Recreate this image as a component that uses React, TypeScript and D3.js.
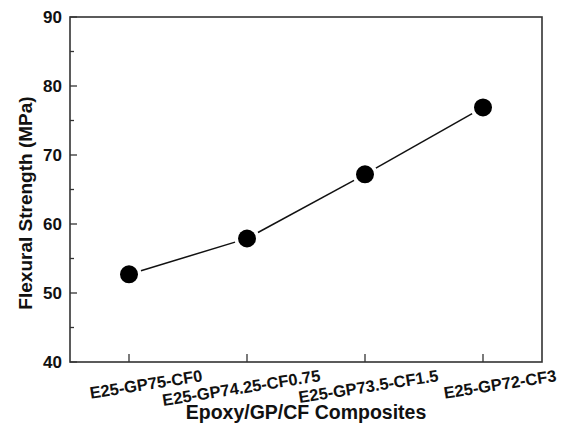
import React, { useRef, useEffect } from "react";
import * as d3 from "d3";

const categories = ["E25-GP75-CF0", "E25-GP74.25-CF0.75", "E25-GP73.5-CF1.5", "E25-GP72-CF3"];
const strength = [52.7, 57.9, 67.2, 76.9];
const yTicks = [40, 50, 60, 70, 80, 90];
const yMinorTicks = [45, 55, 65, 75, 85];

const App = () => {
  const svgRef = useRef<SVGSVGElement>(null);

  useEffect(() => {
    const width = 571;
    const height = 429;
    const marginLeft = 70;
    const marginRight = 29;
    const marginTop = 17;
    const marginBottom = 67;
    const font = "'Liberation Sans', Arial, sans-serif";
    const axisColor = "#333";

    const svg = d3.select(svgRef.current);
    svg.selectAll("*").remove();

    // --- Scales ---
    const x = d3
      .scalePoint<string>()
      .domain(categories)
      .range([marginLeft, width - marginRight])
      .padding(0.5);

    const y = d3
      .scaleLinear()
      .domain([40, 90])
      .range([height - marginBottom, marginTop]);

    const data = categories.map((c, i) => ({ cat: c, value: strength[i] }));

    // --- Line segments with gaps around dots ---
    const gap = 12.5;
    const segs = d3.pairs(data);
    svg.append("g")
      .selectAll("line")
      .data(segs)
      .join("line")
      .each(function ([a, b]) {
        const x1 = x(a.cat)!, y1 = y(a.value);
        const x2 = x(b.cat)!, y2 = y(b.value);
        const len = Math.hypot(x2 - x1, y2 - y1);
        const ux = (x2 - x1) / len, uy = (y2 - y1) / len;
        d3.select(this)
          .attr("x1", x1 + ux * gap)
          .attr("y1", y1 + uy * gap)
          .attr("x2", x2 - ux * gap)
          .attr("y2", y2 - uy * gap);
      })
      .attr("stroke", "#111")
      .attr("stroke-width", 1.5);

    // --- Dots ---
    svg.append("g")
      .selectAll("circle")
      .data(data)
      .join("circle")
      .attr("cx", (d) => x(d.cat)!)
      .attr("cy", (d) => y(d.value))
      .attr("r", 9)
      .attr("fill", "#000");

    // --- Frame ---
    svg.append("rect")
      .attr("x", marginLeft)
      .attr("y", marginTop)
      .attr("width", width - marginLeft - marginRight)
      .attr("height", height - marginTop - marginBottom)
      .attr("fill", "none")
      .attr("stroke", axisColor)
      .attr("stroke-width", 1.6);

    // --- Y axis ticks (inward) ---
    const yAxis = svg.append("g").attr("transform", `translate(${marginLeft},0)`);
    yAxis.selectAll("line.major")
      .data(yTicks)
      .join("line")
      .attr("class", "major")
      .attr("x1", 0)
      .attr("x2", 7)
      .attr("y1", (d) => y(d))
      .attr("y2", (d) => y(d))
      .attr("stroke", axisColor)
      .attr("stroke-width", 1.3);
    yAxis.selectAll("line.minor")
      .data(yMinorTicks)
      .join("line")
      .attr("class", "minor")
      .attr("x1", 0)
      .attr("x2", 4)
      .attr("y1", (d) => y(d))
      .attr("y2", (d) => y(d))
      .attr("stroke", axisColor)
      .attr("stroke-width", 1.3);
    yAxis.selectAll("text")
      .data(yTicks)
      .join("text")
      .attr("x", -8)
      .attr("y", (d) => y(d))
      .attr("dy", "0.36em")
      .attr("text-anchor", "end")
      .attr("font-family", font)
      .attr("font-weight", "bold")
      .attr("font-size", 17)
      .attr("fill", "#111")
      .text((d) => d);

    // --- X axis ticks (inward) and rotated labels ---
    const xAxis = svg.append("g").attr("transform", `translate(0,${height - marginBottom})`);
    xAxis.selectAll("line")
      .data(categories)
      .join("line")
      .attr("x1", (d) => x(d)!)
      .attr("x2", (d) => x(d)!)
      .attr("y1", 0)
      .attr("y2", -8)
      .attr("stroke", axisColor)
      .attr("stroke-width", 1.3);
    xAxis.selectAll("text")
      .data(categories)
      .join("text")
      .attr("transform", (d) => `translate(${x(d)! + 74},19) rotate(-9)`)
      .attr("text-anchor", "end")
      .attr("font-family", font)
      .attr("font-weight", "bold")
      .attr("font-size", 16.5)
      .attr("fill", "#111")
      .text((d) => d);

    // --- Axis titles ---
    svg.append("text")
      .attr("x", 306)
      .attr("y", 419)
      .attr("text-anchor", "middle")
      .attr("font-family", font)
      .attr("font-weight", "bold")
      .attr("font-size", 19.5)
      .attr("fill", "#111")
      .text("Epoxy/GP/CF Composites");

    svg.append("text")
      .attr("transform", `translate(32,203) rotate(-90)`)
      .attr("text-anchor", "middle")
      .attr("font-family", font)
      .attr("font-weight", "bold")
      .attr("font-size", 19)
      .attr("fill", "#111")
      .text("Flexural Strength (MPa)");
  }, []);

  return (
    <svg
      ref={svgRef}
      width={571}
      height={429}
      style={{ position: "absolute", left: 0, top: 0, background: "#fff" }}
    />
  );
};

export default App;
